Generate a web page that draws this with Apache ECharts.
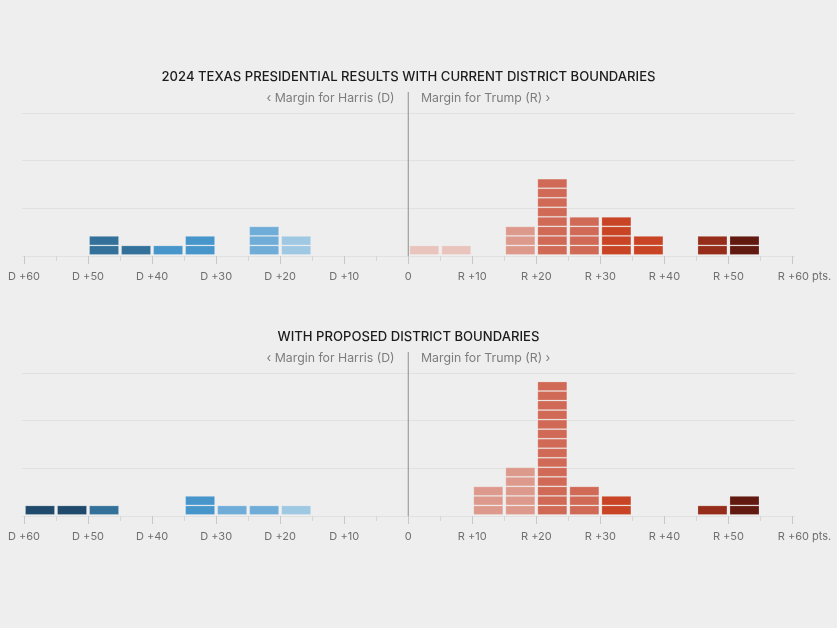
<!DOCTYPE html>
<html><head><meta charset="utf-8">
<style>html,body{margin:0;padding:0;background:#eeeeee}#c{width:837px;height:628px}</style>
<script src="https://cdn.jsdelivr.net/npm/echarts@6/dist/echarts.min.js"></script>
</head><body><div id="c"></div>
<script>
const binStarts = [-60,-55,-50,-45,-40,-35,-30,-25,-20,-15,-10,-5,0,5,10,15,20,25,30,35,40,45,50,55];
const currentCounts  = [0,0,2,1,1,2,0,3,2,0,0,0,1,1,0,3,8,4,4,2,0,2,2,0];
const proposedCounts = [1,1,1,0,0,2,1,1,1,0,0,0,0,0,3,5,14,3,2,0,0,1,2,0];
const binColors = ['#1f4a6b','#1f4a6b','#33719a','#33719a','#4696cb','#4696cb','#6fadd8','#6fadd8','#9fc8e2','#9fc8e2','#c5dcec','#c5dcec',
                   '#e8c4bc','#e8c4bc','#dd9a8c','#dd9a8c','#d06a56','#d06a56','#c94425','#c94425','#962d1a','#962d1a','#621a10','#621a10'];
const binWidth = 5;
const titles = ['2024 TEXAS PRESIDENTIAL RESULTS WITH CURRENT DISTRICT BOUNDARIES','WITH PROPOSED DISTRICT BOUNDARIES'];
const leftNote = '‹ Margin for Harris (D)';
const rightNote = 'Margin for Trump (R) ›';
const xMin = -60, xMax = 60, xMajor = 10;
const yMax = 15, yMajor = 5, dividerTop = 17.2;
const font = 'Inter';

function cells(counts){
  const out=[];
  counts.forEach((n,b)=>{for(let i=0;i<n;i++)out.push([binStarts[b],binStarts[b]+binWidth,i,i+1,b]);});
  return out;
}
function tickLabel(v){
  if(v===0) return '0';
  if(v===xMax) return '{last|R +'+v+' pts.}';
  return (v<0?'D +':'R +')+Math.abs(v);
}
const tops=[113,373], H=143;
const grids=[],xAxes=[],yAxes=[],series=[],texts=[];
tops.forEach((top,k)=>{
  const counts=k?proposedCounts:currentCounts;
  const a=k*2,b=k*2+1;
  grids.push({left:22,right:42,top:top,height:H});
  grids.push({left:24,right:44.5,top:top,height:H});
  xAxes.push({gridIndex:a,type:'value',show:false,min:0,max:1});
  yAxes.push({gridIndex:a,type:'value',min:0,max:yMax,interval:yMajor,
    axisLine:{show:false},axisTick:{show:false},axisLabel:{show:false},
    splitLine:{show:true,lineStyle:{color:'#e1e1e1',width:1}}});
  xAxes.push({gridIndex:b,type:'value',min:xMin,max:xMax,interval:xMajor,offset:3,position:'bottom',
    axisLine:{show:false},splitLine:{show:false},
    axisTick:{show:true,length:8,lineStyle:{color:'#c8c8c8',width:1}},
    minorTick:{show:true,splitNumber:2,length:5,lineStyle:{color:'#d6d6d6',width:1}},
    minorSplitLine:{show:false},
    axisLabel:{show:true,margin:12,color:'#6f6f6f',fontFamily:font,fontSize:11,formatter:tickLabel,showMinLabel:true,showMaxLabel:true,hideOverlap:false,
      rich:{last:{color:'#6f6f6f',fontFamily:font,fontSize:11,padding:[0,0,0,24]}}}});
  yAxes.push({gridIndex:b,type:'value',min:0,max:yMax,interval:yMajor,show:false});
  series.push({type:'custom',xAxisIndex:b,yAxisIndex:b,clip:false,z:3,data:cells(counts),
    encode:{x:[0,1],y:[2,3]},
    renderItem(p,api){
      const tl=api.coord([api.value(0),api.value(3)]),br=api.coord([api.value(1),api.value(2)]);
      return {type:'rect',shape:{x:tl[0]+1.5,y:tl[1]-0.6,width:br[0]-tl[0]-3,height:br[1]-tl[1]-0.9},
        style:{fill:binColors[api.value(4)],stroke:'rgba(255,255,255,0.4)',lineWidth:0.5}};
    }});
  series.push({type:'custom',xAxisIndex:b,yAxisIndex:b,clip:false,z:4,data:[[0,0,dividerTop]],
    encode:{x:0,y:[1,2]},
    renderItem(p,api){
      const s=api.coord([api.value(0),api.value(1)]),e=api.coord([api.value(0),api.value(2)]);
      return {type:'line',shape:{x1:s[0],y1:s[1],x2:e[0],y2:e[1]},style:{stroke:'#8e8e8e',lineWidth:1}};
    }});
  const y0=k?337:77, y1=k?358:98;
  texts.push({type:'text',x:408.5,y:y0,style:{text:titles[k],fill:'#1c1c1c',font:'500 13.1px '+font,textAlign:'center',textVerticalAlign:'middle'}});
  texts.push({type:'text',x:394.5,y:y1,style:{text:leftNote,fill:'#7d7d7d',font:'12.3px '+font,textAlign:'right',textVerticalAlign:'middle'}});
  texts.push({type:'text',x:421,y:y1,style:{text:rightNote,fill:'#7d7d7d',font:'12.3px '+font,textAlign:'left',textVerticalAlign:'middle'}});
});
const chart=echarts.init(document.getElementById('c'));
chart.setOption({animation:false,backgroundColor:'#eeeeee',grid:grids,xAxis:xAxes,yAxis:yAxes,series,graphic:texts});
</script></body></html>
